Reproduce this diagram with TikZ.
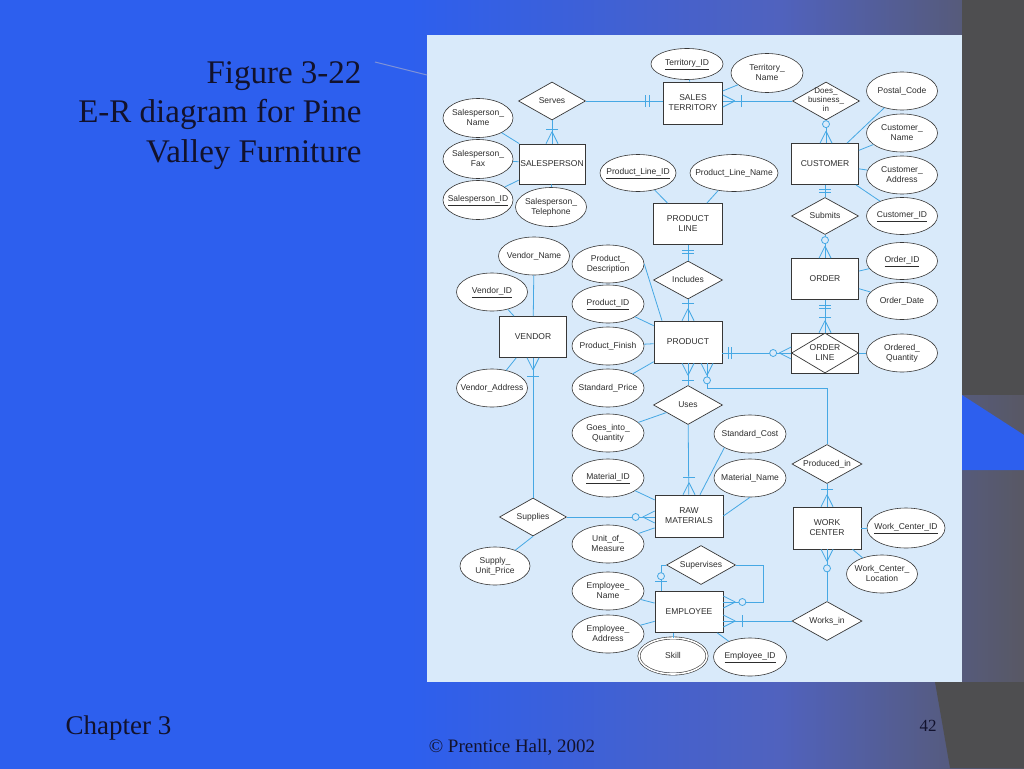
\documentclass[tikz,border=0pt]{standalone}
\usepackage{fontspec}
\setmainfont{Liberation Serif}
\newfontfamily\dg{Liberation Sans}
\usetikzlibrary{shapes.geometric}
\definecolor{panel}{RGB}{217,234,250}
\definecolor{lnc}{RGB}{70,168,228}
\definecolor{edge}{RGB}{55,55,55}
\definecolor{txt}{RGB}{45,45,45}
\definecolor{bgblue}{RGB}{45,95,238}
\definecolor{bgmid}{RGB}{80,98,190}
\definecolor{bggray}{RGB}{88,88,100}
\definecolor{darkbg}{RGB}{78,78,80}
\definecolor{ttl}{RGB}{18,18,45}
\pgfdeclarehorizontalshading{slidebg}{100bp}{color(0bp)=(bgblue); color(25bp)=(bgblue); color(45bp)=(bgblue); color(63bp)=(bgmid); color(75bp)=(bggray); color(100bp)=(bggray)}
\newcommand\dfont{\dg\fontsize{8.5}{10}\selectfont}
\newcommand\zt[1]{\makebox[0pt]{\begin{tabular}{@{}c@{}}#1\end{tabular}}}
\tikzset{
  ent/.style={draw=edge,fill=white,line width=0.7pt,minimum width=67pt,minimum height=41pt,inner sep=0pt,font=\dfont,text=txt},
  rel/.style={diamond,draw=edge,fill=white,line width=0.7pt,minimum width=68pt,minimum height=38pt,inner sep=0pt,font=\dfont,text=txt},
  attr/.style={ellipse,draw=edge,fill=white,line width=0.6pt,minimum width=71pt,minimum height=38pt,inner sep=0pt,font=\dfont,text=txt},
  con/.style={draw=lnc,line width=0.8pt},
  fromL/.style={rotate=0}, fromR/.style={rotate=180}, fromU/.style={rotate=-90}, fromD/.style={rotate=90},
  cf/.pic={\draw[con] (-12,0) -- (0,-6) (-12,0) -- (0,6);},
  br/.pic={\draw[con] (-#1,-6) -- (-#1,6);},
  ci/.pic={\draw[con,fill=panel] (-#1,0) circle[radius=3.5pt];},
}
\begin{document}
\begin{tikzpicture}[x=1pt,y=-1pt]
\useasboundingbox (0,0) rectangle (1024,768);
% background
\shade[shading=slidebg] (0,0) rectangle (1024,768);
\fill[darkbg] (962,0) rectangle (1024,395);
\fill[bgblue] (962,395) -- (1024,435) -- (1024,470) -- (962,470) -- cycle;
\fill[darkbg] (935,682) -- (1024,682) -- (1024,768) -- (950,768) -- cycle;
\fill[panel] (427,35) rectangle (962,682);
\draw[color={rgb,255:red,125;green,145;blue,215},line width=1pt] (375,62) -- (427,75);
% titles
\node[font=\fontsize{33}{40}\selectfont,text=ttl,anchor=base east] (t1) at (365,83) {Figure 3-22};
\node[font=\fontsize{33}{40}\selectfont,text=ttl,anchor=base east] (t2) at (365,122) {E-R diagram for Pine};
\node[font=\fontsize{33}{40}\selectfont,text=ttl,anchor=base east] (t3) at (365,162) {Valley Furniture};
\node[font=\fontsize{27}{30}\selectfont,text=ttl,anchor=base west] (ch) at (62,734) {Chapter 3};
\node[font=\fontsize{19}{22}\selectfont,text=ttl,anchor=base] (ph) at (512,752) {© Prentice Hall, 2002};
\node[font=\fontsize{17}{20}\selectfont,text=ttl,anchor=base] (pg) at (928,731) {42};
% entities
\node[ent,minimum width=66pt,minimum height=40pt] (sp) at (552,164) {\zt{SALESPERSON}};
\node[ent,minimum width=59pt,minimum height=42pt] (st) at (693,103) {\zt{SALES\\TERRITORY}};
\node[ent] (cu) at (825,164) {\zt{CUSTOMER}};
\node[ent,minimum width=69pt] (pl) at (688,224) {\zt{PRODUCT\\LINE}};
\node[ent] (ve) at (533,337) {\zt{VENDOR}};
\node[ent,minimum width=68pt,minimum height=42pt] (pr) at (688,342) {\zt{PRODUCT}};
\node[ent] (or) at (825,279) {\zt{ORDER}};
\node[ent,minimum height=40pt] (ol) at (825,353) {};
\node[rel,minimum width=67pt,minimum height=40pt] (old) at (ol) {\zt{ORDER\\LINE}};
\node[ent,minimum width=68pt,minimum height=42pt] (rm) at (689,516) {\zt{RAW\\MATERIALS}};
\node[ent,minimum width=68pt,minimum height=42pt] (wc) at (827,528) {\zt{WORK\\CENTER}};
\node[ent,minimum width=68pt] (em) at (689,612) {\zt{EMPLOYEE}};
% relationships
\node[rel,minimum width=67pt] (serves) at (552,101) {\zt{Serves}};
\node[rel,minimum width=67pt,font=\dg\fontsize{8}{8.8}\selectfont] (dbi) at (826,101) {\zt{Does\_\\business\_\\in}};
\node[rel,minimum width=67pt,minimum height=37pt] (sub) at (825,216) {\zt{Submits}};
\node[rel,minimum width=69pt] (inc) at (688,280) {\zt{Includes}};
\node[rel,minimum width=69pt,minimum height=39pt] (uses) at (688,405) {\zt{Uses}};
\node[rel,minimum width=70pt,minimum height=39pt] (pin) at (827,464) {\zt{Produced\_in}};
\node[rel,minimum width=67pt] (supp) at (533,517) {\zt{Supplies}};
\node[rel,minimum width=69pt,minimum height=39pt] (sv) at (701,565) {\zt{Supervises}};
\node[rel,minimum width=70pt,minimum height=39pt] (win) at (827,621) {\zt{Works\_in}};
% attributes
\node[attr,minimum width=72pt,minimum height=31pt] (tid) at (687,64) {\zt{\underline{Territory\_ID}}};
\node[attr,minimum width=72pt,minimum height=39pt] (tn) at (767,73) {\zt{Territory\_\\Name}};
\node[attr,minimum width=70pt,minimum height=39pt] (spn) at (478,118) {\zt{Salesperson\_\\Name}};
\node[attr,minimum width=70pt,minimum height=39pt] (spf) at (478,159) {\zt{Salesperson\_\\Fax}};
\node[attr,minimum width=70pt,minimum height=39pt] (spid) at (478,200) {\zt{\underline{Salesperson\_ID}}};
\node[attr,minimum width=71pt,minimum height=39pt] (spt) at (551,207) {\zt{Salesperson\_\\Telephone}};
\node[attr] (pc) at (902,91) {\zt{Postal\_Code}};
\node[attr] (cn) at (902,133) {\zt{Customer\_\\Name}};
\node[attr] (ca) at (902,175) {\zt{Customer\_\\Address}};
\node[attr,minimum height=37pt] (cid) at (902,216) {\zt{\underline{Customer\_ID}}};
\node[attr,minimum height=37pt] (oid) at (902,261) {\zt{\underline{Order\_ID}}};
\node[attr,minimum height=37pt] (od) at (902,301) {\zt{Order\_Date}};
\node[attr] (oq) at (902,353) {\zt{Ordered\_\\Quantity}};
\node[attr,minimum width=76pt,minimum height=37pt] (plid) at (638,173) {\zt{\underline{Product\_Line\_ID}}};
\node[attr,minimum width=88pt,minimum height=37pt] (pln) at (734,173) {\zt{Product\_Line\_Name}};
\node[attr] (vn) at (534,256) {\zt{Vendor\_Name}};
\node[attr] (vid) at (492,292) {\zt{\underline{Vendor\_ID}}};
\node[attr] (va) at (492,388) {\zt{Vendor\_Address}};
\node[attr,minimum width=72pt] (pd) at (608,264) {\zt{Product\_\\Description}};
\node[attr,minimum width=72pt] (pid) at (608,304) {\zt{\underline{Product\_ID}}};
\node[attr,minimum width=72pt] (pf) at (608,346) {\zt{Product\_Finish}};
\node[attr,minimum width=72pt] (sprice) at (608,388) {\zt{Standard\_Price}};
\node[attr,minimum width=72pt] (giq) at (608,433) {\zt{Goes\_into\_\\Quantity}};
\node[attr,minimum width=72pt] (mid) at (608,478) {\zt{\underline{Material\_ID}}};
\node[attr,minimum width=72pt] (uom) at (608,544) {\zt{Unit\_of\_\\Measure}};
\node[attr,minimum width=72pt] (en) at (608,591) {\zt{Employee\_\\Name}};
\node[attr,minimum width=72pt] (ea) at (608,634) {\zt{Employee\_\\Address}};
\node[attr,double,double distance=1.6pt,minimum width=68pt,minimum height=36pt] (skill) at (673,656) {\zt{Skill}};
\node[attr,minimum width=73pt] (eid) at (750,657) {\zt{\underline{Employee\_ID}}};
\node[attr,minimum width=72pt] (sc) at (750,434) {\zt{Standard\_Cost}};
\node[attr,minimum width=72pt] (mn) at (750,478) {\zt{Material\_Name}};
\node[attr,minimum width=70pt] (sup) at (495,566) {\zt{Supply\_\\Unit\_Price}};
\node[attr,minimum width=78pt,minimum height=40pt] (wcid) at (906,528) {\zt{\underline{Work\_Center\_ID}}};
\node[attr,minimum width=71pt] (wcl) at (882,574) {\zt{Work\_Center\_\\Location}};
% relationship connectors
\draw[con] (serves) -- (sp);
\path (sp.north) pic[fromU]{cf} pic[fromU]{br=14};
\draw[con] (serves.east) -- (serves.east -| st.west);
\path (serves.east -| st.west) pic[fromL]{br=14} pic[fromL]{br=18};
\draw[con] (dbi.west) -- (dbi.west -| st.east);
\path (dbi.west -| st.east) pic[fromR]{cf} pic[fromR]{br=19};
\draw[con] (dbi.south) -- (dbi.south |- cu.north);
\path (dbi.south |- cu.north) pic[fromU]{cf} pic[fromU]{ci=19};
\draw[con] (cu) -- (sub);
\path (cu.south) pic[fromD]{br=5} pic[fromD]{br=8};
\draw[con] (sub) -- (or);
\path (or.north) pic[fromU]{cf} pic[fromU]{ci=18};
\draw[con] (or) -- (ol);
\path (or.south) pic[fromD]{br=6} pic[fromD]{br=9};
\path (ol.north) pic[fromU]{cf} pic[fromU]{br=15};
\draw[con] (pr.east |- ol.west) -- (ol.west);
\path (pr.east |- ol.west) pic[fromR]{br=6} pic[fromR]{br=9};
\path (ol.west) pic[fromL]{cf} pic[fromL]{ci=18};
\draw[con] (pl) -- (inc);
\path (pl.south) pic[fromD]{br=6} pic[fromD]{br=9};
\draw[con] (inc) -- (pr);
\path (pr.north) pic[fromU]{cf} pic[fromU]{br=17};
\draw[con] (pr) -- (uses);
\path (pr.south) pic[fromD]{cf} pic[fromD]{br=17};
\draw[con] ([xshift=19pt]pr.south) -- ++(0,25) -| (pin.north);
\path ([xshift=19pt]pr.south) pic[fromD]{cf} pic[fromD]{ci=17};
\draw[con] (uses) -- (rm);
\path (rm.north) pic[fromU]{cf} pic[fromU]{br=17};
\draw[con] (pin) -- (wc);
\path (wc.north) pic[fromU]{cf} pic[fromU]{br=17};
\draw[con] (ve) -- (supp);
\path (ve.south) pic[fromD]{cf} pic[fromD]{br=19};
\draw[con] (supp.east) -- (supp.east -| rm.west);
\path (supp.east -| rm.west) pic[fromL]{cf} pic[fromL]{ci=19};
\draw[con] (sv.west) -| ([xshift=-28pt]em.north);
\path ([xshift=-28pt]em.north) pic[fromU]{br=10} pic[fromU]{ci=15};
\draw[con] (sv.east) -- ++(28,0) |- ([yshift=10pt]em.east);
\path ([yshift=10pt]em.east) pic[fromR]{cf} pic[fromR]{ci=19};
\draw[con] (win.west -| em.east) -- (win.west);
\path (win.west -| em.east) pic[fromR]{cf} pic[fromR]{br=19};
\draw[con] (win) -- (wc);
\path (wc.south) pic[fromD]{cf} pic[fromD]{ci=19};
% attribute connectors
\draw[con] (spn) -- (sp);
\draw[con] (spf) -- (sp);
\draw[con] (spid) -- (sp);
\draw[con] (spt) -- (sp);
\draw[con] (tid) -- (st);
\draw[con] (tn) -- (st);
\draw[con] (pc) -- (cu);
\draw[con] (cn) -- (cu);
\draw[con] (ca) -- (cu);
\draw[con] (cid) -- (cu);
\draw[con] (oid) -- (or);
\draw[con] (od) -- (or);
\draw[con] (oq) -- (ol);
\draw[con] (plid) -- (pl);
\draw[con] (pln) -- (pl);
\draw[con] (vn) -- (ve);
\draw[con] (vid) -- (ve);
\draw[con] (va) -- (ve);
\draw[con] (pd.east) -- ([xshift=-26pt]pr.north);
\draw[con] (pid) -- (pr);
\draw[con] (pf) -- (pr);
\draw[con] (sprice) -- (pr);
\draw[con] (giq) -- (uses);
\draw[con] (mid) -- (rm);
\draw[con] (uom) -- (rm);
\draw[con] (sc.south west) -- ([xshift=11pt]rm.north);
\draw[con] (mn.south) -- (rm.east);
\draw[con] (en) -- (em);
\draw[con] (ea) -- (em);
\draw[con] (skill.north) -- (skill.north |- em.south);
\draw[con] (eid) -- (em);
\draw[con] (wcid) -- (wc);
\draw[con] (wcl) -- (wc);
\draw[con] (supp.south) -- (sup);
\end{tikzpicture}
\end{document}
